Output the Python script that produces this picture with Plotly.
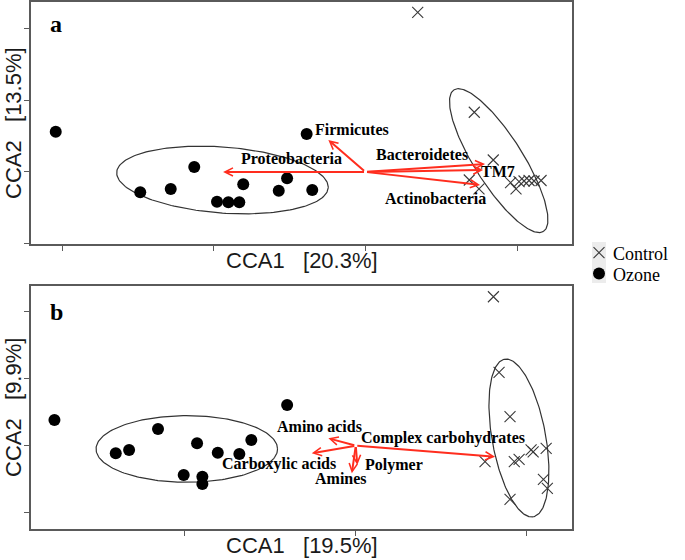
import numpy as np
import plotly.graph_objects as go

# ---------------- Panel a (taxa) ----------------
a_ctrl_x = [0.344, 0.717, 0.842, 0.684, 0.748, 0.956, 0.992, 1.012, 1.045, 1.078, 1.111, 1.157]
a_ctrl_y = [2.227, 0.833, 0.167, -0.112, -0.237, -0.149, -0.237, -0.135, -0.126, -0.119, -0.126, -0.119]
a_ozone_x = [-2.042, -1.485, -1.284, -1.129, -0.979, -0.904, -0.832, -0.806, -0.572, -0.517, -0.351, -0.388]
a_ozone_y = [0.562, -0.283, -0.237, 0.070, -0.414, -0.423, -0.423, -0.172, -0.261, -0.088, -0.251, 0.530]
a_vec_names = ["Proteobacteria", "Firmicutes", "Bacteroidetes", "TM7", "Actinobacteria"]
a_vec_x = [-0.939, -0.245, 0.788, 0.775, 0.755]
a_vec_y = [0.0, 0.446, 0.112, 0.028, -0.181]
# ellipse: center, half-axis u, half-axis v (data units)
a_ell_ozone = dict(c=(-0.943, -0.112), u=(0.697, -0.110), v=(-0.0165, -0.459))
a_ell_ctrl = dict(c=(0.878, 0.158), u=(0.295, -0.987), v=(-0.135, -0.181))

# ---------------- Panel b (substrates) ----------------
b_ctrl_x = [0.804, 0.837, 0.901, 0.755, 0.926, 0.954, 1.024, 1.036, 1.112, 1.096, 1.119, 0.901]
b_ctrl_y = [2.227, 1.097, 0.433, -0.239, -0.239, -0.203, -0.064, -0.094, -0.039, -0.502, -0.637, -0.801]
b_ozone_x = [-1.760, -1.402, -1.324, -1.155, -1.005, -0.927, -0.896, -0.896, -0.806, -0.680, -0.610, -0.401]
b_ozone_y = [0.384, -0.114, -0.064, 0.250, -0.438, 0.036, -0.463, -0.573, -0.105, -0.124, 0.085, 0.608]
b_vec_names = ["Complex carbohydrates", "Amino acids", "Carboxylic acids", "Amines", "Polymer"]
b_vec_x = [0.814, -0.160, -0.257, -0.023, 0.009]
b_vec_y = [-0.164, 0.111, -0.114, -0.413, -0.288]
b_ell_ozone = dict(c=(-0.987, -0.049), u=(0.530, 0.0), v=(0.0, 0.498))
b_ell_ctrl = dict(c=(0.953, 0.115), u=(0.0835, -1.178), v=(-0.154, -0.072))

# label placement (data units of each panel)
a_lab_pos = [(-0.491, 0.181), (-0.092, 0.586), (0.372, 0.237), (0.873, 0.0), (0.461, -0.377)]
b_lab_pos = [(0.507, 0.111), (-0.209, 0.284), (-0.449, -0.278), (-0.087, -0.487), (0.223, -0.288)]

W, H = 685, 560
RED = "#ff2d1e"
SERIF = "Liberation Serif"
SANS = "Liberation Sans"

fig = go.Figure()


def ellipse(e):
    t = np.linspace(0, 2 * np.pi, 200)
    x = e["c"][0] + np.cos(t) * e["u"][0] + np.sin(t) * e["v"][0]
    y = e["c"][1] + np.cos(t) * e["u"][1] + np.sin(t) * e["v"][1]
    return x, y


for ax_x, ax_y, ells in [("x", "y", [a_ell_ozone, a_ell_ctrl]), ("x2", "y2", [b_ell_ozone, b_ell_ctrl])]:
    for e in ells:
        ex, ey = ellipse(e)
        fig.add_trace(go.Scatter(x=ex, y=ey, mode="lines", xaxis=ax_x, yaxis=ax_y,
                                 line=dict(color="#333333", width=1.2), hoverinfo="skip",
                                 showlegend=False))

for ax_x, ax_y, cx, cy, ox, oy in [("x", "y", a_ctrl_x, a_ctrl_y, a_ozone_x, a_ozone_y),
                                    ("x2", "y2", b_ctrl_x, b_ctrl_y, b_ozone_x, b_ozone_y)]:
    fig.add_trace(go.Scatter(x=cx, y=cy, mode="markers", xaxis=ax_x, yaxis=ax_y, name="Control",
                             marker=dict(symbol="x-thin", size=11, color="#3a3a3a",
                                         line=dict(width=1.1, color="#3a3a3a")),
                             showlegend=False))
    fig.add_trace(go.Scatter(x=ox, y=oy, mode="markers", xaxis=ax_x, yaxis=ax_y, name="Ozone",
                             marker=dict(symbol="circle", size=12, color="black"),
                             showlegend=False))

annotations = []
# arrows + labels
for xr, yr, names, vx, vy, lp in [("x", "y", a_vec_names, a_vec_x, a_vec_y, a_lab_pos),
                                   ("x2", "y2", b_vec_names, b_vec_x, b_vec_y, b_lab_pos)]:
    for n, x1, y1 in zip(names, vx, vy):
        annotations.append(dict(x=x1, y=y1, ax=0, ay=0, xref=xr, yref=yr, axref=xr, ayref=yr,
                                text="", showarrow=True, arrowhead=5, arrowsize=0.8,
                                arrowwidth=2, arrowcolor=RED, standoff=0, startstandoff=0))
    for n, (lx, ly) in zip(names, lp):
        annotations.append(dict(x=lx, y=ly, xref=xr, yref=yr, text="<b>%s</b>" % n,
                                showarrow=False, font=dict(family=SERIF, size=16, color="black"),
                                xanchor="center", yanchor="middle"))

# axis titles
title_font = dict(family=SANS, size=22, color="#1a1a1a")
annotations += [
    dict(x=301.5 / W, y=1 - 260 / H, xref="paper", yref="paper", text="CCA1   [20.3%]",
         showarrow=False, font=title_font, xanchor="center", yanchor="middle"),
    dict(x=301.5 / W, y=1 - 545 / H, xref="paper", yref="paper", text="CCA1   [19.5%]",
         showarrow=False, font=title_font, xanchor="center", yanchor="middle"),
    dict(x=13 / W, y=1 - 123 / H, xref="paper", yref="paper", text="CCA2   [13.5%]",
         showarrow=False, font=title_font, textangle=-90, xanchor="center", yanchor="middle"),
    dict(x=13 / W, y=1 - 408 / H, xref="paper", yref="paper", text="CCA2   [9.9%]",
         showarrow=False, font=title_font, textangle=-90, xanchor="center", yanchor="middle"),
    dict(x=56 / W, y=1 - 24 / H, xref="paper", yref="paper", text="<b>a</b>",
         showarrow=False, font=dict(family=SERIF, size=24, color="black"),
         xanchor="center", yanchor="middle"),
    dict(x=56.5 / W, y=1 - 312 / H, xref="paper", yref="paper", text="<b>b</b>",
         showarrow=False, font=dict(family=SERIF, size=24, color="black"),
         xanchor="center", yanchor="middle"),
]

# legend (manual, on its own small axis)
leg_names = ["Control", "Ozone"]
leg_rows = [1.48, 0.46]
fig.add_trace(go.Scatter(x=[0.5], y=[leg_rows[0]], mode="markers", xaxis="x3", yaxis="y3",
                         marker=dict(symbol="x-thin", size=11, color="#3a3a3a",
                                     line=dict(width=1.1, color="#3a3a3a")),
                         showlegend=False, hoverinfo="skip"))
fig.add_trace(go.Scatter(x=[0.5], y=[leg_rows[1]], mode="markers", xaxis="x3", yaxis="y3",
                         marker=dict(symbol="circle", size=12, color="black"),
                         showlegend=False, hoverinfo="skip"))
for n, r in zip(leg_names, leg_rows):
    annotations.append(dict(x=1.0, y=r, xref="x3", yref="y3", text=n, showarrow=False,
                            xanchor="left", yanchor="middle", xshift=5, yshift=-1,
                            font=dict(family=SERIF, size=18, color="black")))

shapes = [dict(type="rect", xref="x3 domain", yref="y3 domain", x0=0, x1=1, y0=0, y1=1,
               fillcolor="#ececec", line=dict(width=0), layer="below")]

frame = dict(showgrid=False, zeroline=False, showticklabels=False, ticks="outside",
             ticklen=5, tickwidth=1, tickcolor="#5a5a5a", showline=True, mirror=True,
             linecolor="#5a5a5a", linewidth=1.5)

fig.update_layout(
    width=W, height=H, margin=dict(l=0, r=0, t=0, b=0),
    paper_bgcolor="white", plot_bgcolor="white", showlegend=False,
    xaxis=dict(domain=[31 / W, 572 / W], range=[-2.205, 1.361], tickvals=[-2, -1, 0, 1],
               anchor="y", **frame),
    yaxis=dict(domain=[1 - 244 / H, 1 - 2 / H], range=[-1.005, 2.371], tickvals=[-1, 0, 1, 2],
               anchor="x", **frame),
    xaxis2=dict(domain=[31 / W, 572 / W], range=[-1.897, 1.263], tickvals=[-1, 0, 1],
                anchor="y2", **frame),
    yaxis2=dict(domain=[1 - 529.3 / H, 1 - 285.7 / H], range=[-1.250, 2.392],
                tickvals=[-1, 0, 1, 2], anchor="x2", **frame),
    xaxis3=dict(domain=[592 / W, 606 / W], range=[0, 1], visible=False, anchor="y3",
                fixedrange=True),
    yaxis3=dict(domain=[1 - 283 / H, 1 - 242 / H], range=[0, 2], visible=False, anchor="x3",
                fixedrange=True),
    annotations=annotations, shapes=shapes,
)

fig.write_html("out.html", config={"displayModeBar": False},
               post_script="document.body.style.margin='0px';")
